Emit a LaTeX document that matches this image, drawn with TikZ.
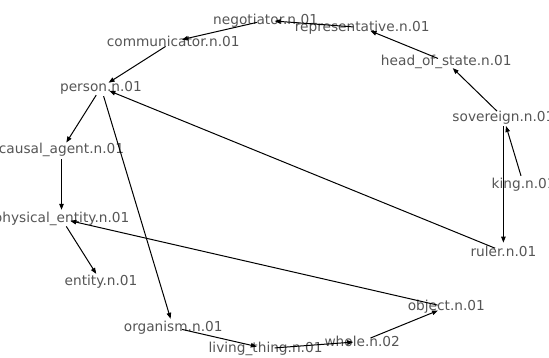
\documentclass[tikz,border=0pt]{standalone}
\usepackage{fontspec}
\setmainfont{DejaVu Sans}
\usetikzlibrary{arrows.meta}
\definecolor{labelgray}{HTML}{555555}
\tikzset{
  lbl/.style={inner sep=0pt, text=labelgray, font=\fontsize{13.7}{15}\selectfont, anchor=center},
  edge/.style={draw=black, line width=1pt, -{Triangle[length=6pt,width=4.5pt]}, shorten >=9pt, shorten <=9pt}
}
\begin{document}
\begin{tikzpicture}[x=1pt,y=1pt]
\useasboundingbox (0,0) rectangle (549,358);
\begin{scope}[shift={(290,173.5)}]
\node[lbl] (king) at (0:233.6 and 165) {king.n.01};
\node[lbl] (sov) at (24:233.6 and 165) {sovereign.n.01};
\node[lbl] (hos) at (48:233.6 and 165) {head\_of\_state.n.01};
\node[lbl] (rep) at (72:233.6 and 165) {representative.n.01};
\node[lbl] (neg) at (96:233.6 and 165) {negotiator.n.01};
\node[lbl] (com) at (120:233.6 and 165) {communicator.n.01};
\node[lbl] (per) at (144:233.6 and 165) {person.n.01};
\node[lbl] (cau) at (168:233.6 and 165) {causal\_agent.n.01};
\node[lbl] (phy) at (192:233.6 and 165) {physical\_entity.n.01};
\node[lbl] (ent) at (216:233.6 and 165) {entity.n.01};
\node[lbl] (org) at (240:233.6 and 165) {organism.n.01};
\node[lbl] (liv) at (264:233.6 and 165) {living\_thing.n.01};
\node[lbl] (who) at (288:233.6 and 165) {whole.n.02};
\node[lbl] (obj) at (312:233.6 and 165) {object.n.01};
\node[lbl] (rul) at (336:233.6 and 165) {ruler.n.01};
\end{scope}
\draw[edge] (king.center) -- (sov.center);
\draw[edge] (sov.center) -- (hos.center);
\draw[edge] (sov.center) -- (rul.center);
\draw[edge] (hos.center) -- (rep.center);
\draw[edge] (rep.center) -- (neg.center);
\draw[edge] (neg.center) -- (com.center);
\draw[edge] (com.center) -- (per.center);
\draw[edge] (rul.center) -- (per.center);
\draw[edge] (per.center) -- (cau.center);
\draw[edge] (per.center) -- (org.center);
\draw[edge] (cau.center) -- (phy.center);
\draw[edge] (phy.center) -- (ent.center);
\draw[edge] (org.center) -- (liv.center);
\draw[edge] (liv.center) -- (who.center);
\draw[edge] (who.center) -- (obj.center);
\draw[edge] (obj.center) -- (phy.center);
\end{tikzpicture}
\end{document}
